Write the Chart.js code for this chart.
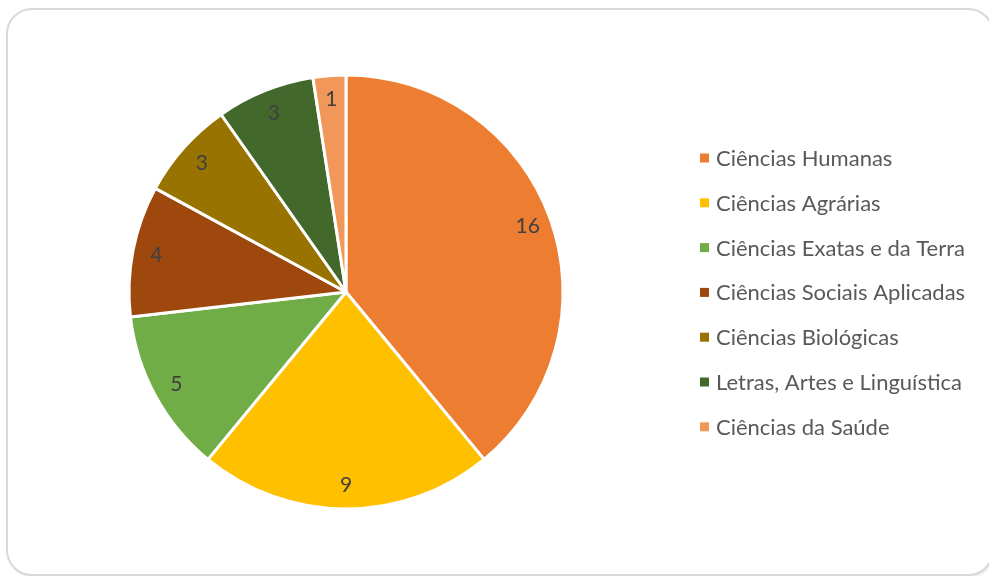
<!DOCTYPE html>
<html lang="pt">
<head>
<meta charset="utf-8">
<title>Áreas do conhecimento</title>
<script src="https://cdn.jsdelivr.net/npm/chart.js@4"></script>
<style>
	html, body { margin: 0; padding: 0; background: #fff; }
	#frame {
		position: absolute; left: 6px; top: 8px; width: 984px; height: 564px;
		border: 2px solid #d9d9d9; border-radius: 26px;
		box-shadow: 1px 1px 2px rgba(0,0,0,0.12);
	}
	#wrap { position: absolute; left: 0; top: 0; width: 989px; height: 576px; }
</style>
</head>
<body>
<div id="frame"></div>
<div id="wrap"><canvas id="areasPie" width="989" height="576"></canvas></div>
<script>
const areas = ['Ciências Humanas', 'Ciências Agrárias', 'Ciências Exatas e da Terra', 'Ciências Sociais Aplicadas', 'Ciências Biológicas', 'Letras, Artes e Linguística', 'Ciências da Saúde'];
const counts = [16, 9, 5, 4, 3, 3, 1];
const sliceColors = ['#ED7D31', '#FFC000', '#70AD47', '#9E480E', '#997300', '#43682B', '#F1975A'];

const FONT = 'Lato, "Open Sans", sans-serif';

// value labels inside each slice, near the rim
const sliceLabels = {
	id: 'sliceLabels',
	afterDatasetsDraw(chart) {
		const ctx = chart.ctx;
		const meta = chart.getDatasetMeta(0);
		ctx.save();
		ctx.font = '21px ' + FONT;
		ctx.fillStyle = '#404040';
		ctx.textAlign = 'center';
		ctx.textBaseline = 'middle';
		meta.data.forEach(function(arc, i) {
			const p = arc.getProps(['x', 'y', 'startAngle', 'endAngle', 'outerRadius'], true);
			const mid = (p.startAngle + p.endAngle) / 2;
			const r = p.outerRadius * 0.89;
			ctx.fillText(counts[i], p.x + Math.cos(mid) * r, p.y + Math.sin(mid) * r);
		});
		ctx.restore();
	}
};

// legend list on the right side
const sideLegend = {
	id: 'sideLegend',
	afterDraw(chart) {
		const ctx = chart.ctx;
		const x = 700, y0 = 158, step = 44.8, box = 9;
		ctx.save();
		ctx.font = '22px ' + FONT;
		ctx.textBaseline = 'middle';
		ctx.textAlign = 'left';
		chart.data.labels.forEach(function(label, i) {
			const y = y0 + i * step;
			ctx.fillStyle = chart.data.datasets[0].backgroundColor[i];
			ctx.fillRect(x, y - box / 2, box, box);
			ctx.fillStyle = '#595959';
			ctx.fillText(label, x + 16, y + 1);
		});
		ctx.restore();
	}
};

new Chart(document.getElementById('areasPie'), {
	type: 'pie',
	data: {
		labels: areas,
		datasets: [{
			data: counts,
			backgroundColor: sliceColors,
			borderColor: '#ffffff',
			borderWidth: 3
		}]
	},
	options: {
		responsive: false,
		animation: false,
		radius: 217,
		layout: { padding: { left: 126, top: 72, right: 423, bottom: 64 } },
		plugins: {
			legend: { display: false },
			tooltip: { enabled: false }
		}
	},
	plugins: [sliceLabels, sideLegend]
});
</script>
</body>
</html>
